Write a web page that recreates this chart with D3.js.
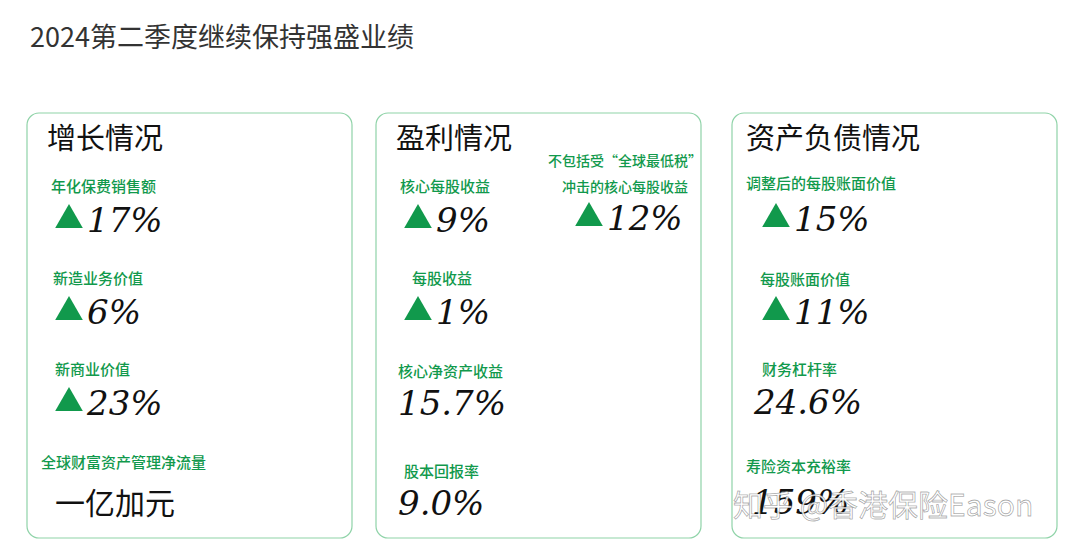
<!DOCTYPE html>
<html><head><meta charset="utf-8">
<script src="https://cdn.jsdelivr.net/npm/d3@7"></script>
<style>body{margin:0;background:#fff}</style>
</head><body>
<script>
var width = 1080, height = 548;
var green = "#11994c";

var panelTitles = ["增长情况", "盈利情况", "资产负债情况"];
var labels = ["年化保费销售额", "新造业务价值", "新商业价值", "全球财富资产管理净流量",
    "核心每股收益", "每股收益", "核心净资产收益", "股本回报率",
    "调整后的每股账面价值", "每股账面价值", "财务杠杆率", "寿险资本充裕率"];
var values = ["17%", "6%", "23%", "一亿加元",
    "9%", "1%", "15.7%", "9.0%",
    "15%", "11%", "24.6%", "159%"];
var arrows = [1, 1, 1, 0, 1, 1, 0, 0, 1, 1, 0, 0];

var panelX = [27, 376, 732], panelW = 325;
var rowY = [[192, 284, 375, 468], [192, 284, 377, 477], [189, 285, 375, 472]];
var labelDx = [[24, 26, 28, 14], [24, 36, 22, 28], [14, 28, 30, 14]];
var valueDx = [[28, 28, 28, 28], [28, 28, 22, 22], [30, 30, 22, 20]];
var valueDy = [[40, 40, 40, 46], [40, 40, 38, 38], [42, 39, 39, 42]];

var svg = d3.select("body").append("svg").attr("width", width).attr("height", height);

svg.append("text").attr("x", 30).attr("y", 47)
    .attr("font-family", "Noto Sans CJK SC").attr("font-size", 27).attr("fill", "#333")
    .text("2024第二季度继续保持强盛业绩");

svg.selectAll("rect.panel").data(panelX).enter().append("rect")
    .attr("x", function(d) { return d; }).attr("y", 113)
    .attr("width", panelW).attr("height", 425).attr("rx", 12)
    .attr("fill", "none").attr("stroke", "#8fd3a8").attr("stroke-width", 1.2);

svg.selectAll("text.ptitle").data(panelTitles).enter().append("text")
    .attr("x", function(d, i) { return panelX[i] + (i == 2 ? 14 : 20); }).attr("y", 149)
    .attr("font-family", "Noto Sans CJK SC").attr("font-size", 29).attr("fill", "#111")
    .text(function(d) { return d; });

labels.forEach(function(lab, k) {
    var p = Math.floor(k / 4), r = k % 4;
    var x0 = panelX[p];
    svg.append("text").attr("x", x0 + labelDx[p][r]).attr("y", rowY[p][r])
        .attr("font-family", "Noto Sans CJK SC").attr("font-size", 15).attr("font-weight", 500)
        .attr("fill", green).text(lab);
    var vy = rowY[p][r] + valueDy[p][r];
    var vx = x0 + valueDx[p][r];
    if (arrows[k]) {
        svg.append("path").attr("d", d3.symbol(d3.symbolTriangle, 330)())
            .attr("transform", "translate(" + (vx + 14) + "," + (vy - 12) + ")")
            .attr("fill", green);
        vx += 32;
    }
    var cjk = values[k] == "一亿加元";
    svg.append("text").attr("x", vx).attr("y", vy)
        .attr("font-family", cjk ? "Noto Sans CJK SC" : "DejaVu Serif")
        .attr("font-style", cjk ? "normal" : "italic")
        .attr("font-size", cjk ? 30 : 34).attr("fill", "#111")
        .text(values[k]);
});

var noteLines = ["不包括受“全球最低税”", "冲击的核心每股收益"];
svg.selectAll("text.note").data(noteLines).enter().append("text")
    .attr("x", 625).attr("y", function(d, i) { return 166 + i * 26; })
    .attr("text-anchor", "middle")
    .attr("font-family", "Noto Sans CJK SC").attr("font-size", 14).attr("font-weight", 500)
    .attr("fill", green).text(function(d) { return d; });
svg.append("path").attr("d", d3.symbol(d3.symbolTriangle, 330)())
    .attr("transform", "translate(589,218)").attr("fill", green);
svg.append("text").attr("x", 607).attr("y", 230)
    .attr("font-family", "DejaVu Serif").attr("font-style", "italic")
    .attr("font-size", 34).attr("fill", "#111").text("12%");

// watermark
svg.append("text").attr("x", 733).attr("y", 516)
    .attr("font-family", "Noto Sans CJK SC").attr("font-size", 30)
    .attr("fill", "rgba(255,255,255,0.85)").attr("stroke", "rgba(0,0,0,0.35)").attr("stroke-width", 0.8)
    .text("知乎 @香港保险Eason");
</script>
</body></html>
